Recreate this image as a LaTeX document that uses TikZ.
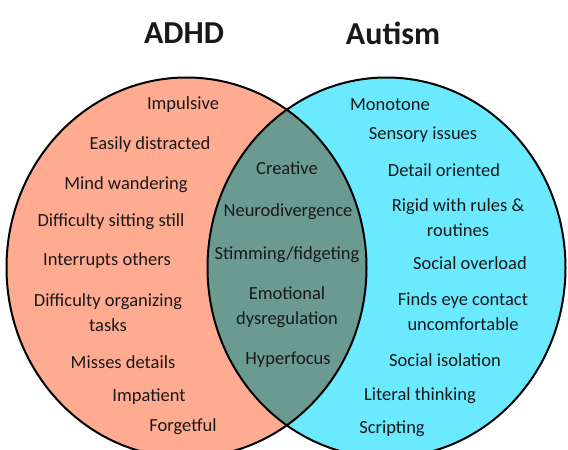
\documentclass[tikz,border=0pt]{standalone}
\usepackage{fontspec}
\setmainfont{Carlito}
\definecolor{adhdfill}{HTML}{FFAB91}
\definecolor{autismfill}{HTML}{6AE9FF}
\definecolor{bothfill}{HTML}{6B9A91}
\begin{document}
\begin{tikzpicture}[
                    x=1pt, y=-1pt,
                    every node/.style={align=center, inner sep=0pt, text=black!90,
                        yshift=-2pt, font=\fontsize{18.5}{25}\selectfont},
                    title/.style={yshift=2pt, font=\fontsize{32}{40}\selectfont\bfseries},
                    outline/.style={draw=black, line width=2pt},
                ]
                \clip (0,0) rectangle (568,450);
                \coordinate (adhd) at (186.5,265.5);
                \coordinate (autism) at (386.5,265.5);
                % the two sets and their overlap
                \fill[adhdfill] (adhd) ellipse [x radius=180, y radius=190];
                \fill[autismfill] (autism) ellipse [x radius=179, y radius=190];
                \begin{scope}
                    \clip (adhd) ellipse [x radius=180, y radius=190];
                    \fill[bothfill] (autism) ellipse [x radius=179, y radius=190];
                \end{scope}
                \draw[outline] (adhd) ellipse [x radius=180, y radius=190];
                \draw[outline] (autism) ellipse [x radius=179, y radius=190];
                % titles
                \node[title] (adhdtitle) at (184,33) {ADHD};
                \node[title] (autismtitle) at (393,33) {Autism};
                % ADHD only
                \node (impulsive) at (183,103) {Impulsive};
                \node (distracted) at (150,143) {Easily distracted};
                \node (wandering) at (126,183) {Mind wandering};
                \node (sitting) at (111,220) {Difficulty sitting still};
                \node (interrupts) at (107,259) {Interrupts others};
                \node (organizing) at (108,311) {Difficulty organizing\\tasks};
                \node (details) at (123,360) {Misses details};
                \node (impatient) at (149,395) {Impatient};
                \node (forgetful) at (183,425) {Forgetful};
                % both
                \node (creative) at (287,166) {Creative};
                \node (neuro) at (288,210) {Neurodivergence};
                \node (stimming) at (287,253) {Stimming/fidgeting};
                \node (emotional) at (287,305) {Emotional\\dysregulation};
                \node (hyperfocus) at (288,358) {Hyperfocus};
                % Autism only
                \node (monotone) at (390,103) {Monotone};
                \node (sensory) at (423,133) {Sensory issues};
                \node (detail) at (444,168) {Detail oriented};
                \node (rigid) at (458,216) {Rigid with rules \&\\routines};
                \node (overload) at (470,261) {Social overload};
                \node (eyecontact) at (463,310) {Finds eye contact\\uncomfortable};
                \node (isolation) at (445,358) {Social isolation};
                \node (literal) at (420,394) {Literal thinking};
                \node (scripting) at (392,427) {Scripting};
                \end{tikzpicture}
\end{document}
